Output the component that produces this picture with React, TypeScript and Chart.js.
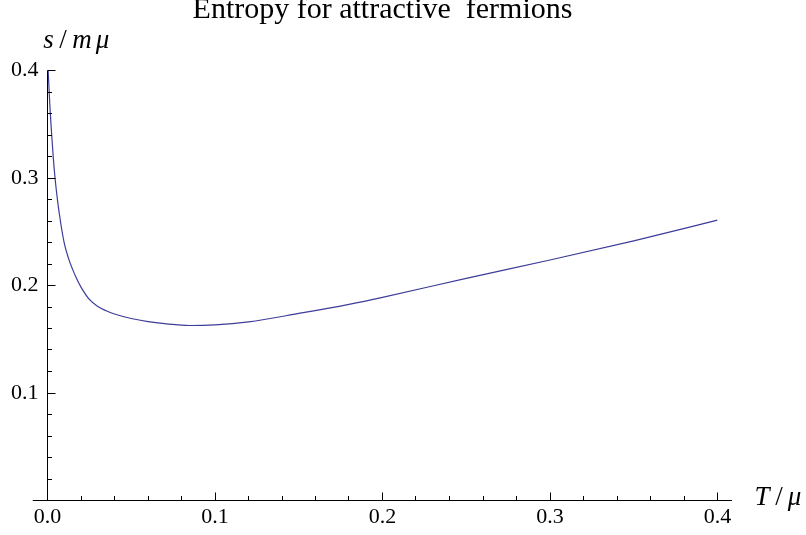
import React, { useEffect, useRef } from 'react';
import { Chart, registerables } from 'chart.js';

Chart.register(...registerables);

const titleText = 'Entropy for attractive  fermions';

const temperature = [
  0.0004, 0.001, 0.0016, 0.0025, 0.0035, 0.0045, 0.006, 0.008, 0.01, 0.0125,
  0.015, 0.0175, 0.02, 0.025, 0.03, 0.035, 0.04, 0.05, 0.06, 0.07,
  0.085, 0.1, 0.12, 0.15, 0.18, 0.2, 0.25, 0.3, 0.35, 0.4,
];
const entropy = [
  0.4, 0.38, 0.362, 0.34, 0.318, 0.3, 0.279, 0.257, 0.2395, 0.2255,
  0.215, 0.206, 0.1985, 0.187, 0.1805, 0.1765, 0.1735, 0.1693, 0.1664, 0.1645,
  0.1628, 0.1634, 0.1662, 0.174, 0.1825, 0.189, 0.2067, 0.2237, 0.2415, 0.2608,
];

const xTickValues = [0.0, 0.1, 0.2, 0.3, 0.4];
const yTickValues = [0.1, 0.2, 0.3, 0.4];
const xMinorTicks = [0.02, 0.04, 0.06, 0.08, 0.12, 0.14, 0.16, 0.18, 0.22, 0.24, 0.26, 0.28, 0.32, 0.34, 0.36, 0.38];
const yMinorTicks = [0.02, 0.04, 0.06, 0.08, 0.12, 0.14, 0.16, 0.18, 0.22, 0.24, 0.26, 0.28, 0.32, 0.34, 0.36, 0.38];
const xAxisExtent = [-0.0088, 0.4086];

const SERIF = "'Liberation Serif', 'Times New Roman', serif";

const axesPlugin = {
  id: 'mmaAxes',
  afterDraw(chart: any) {
    const ctx = chart.ctx as CanvasRenderingContext2D;
    const xs = chart.scales.x;
    const ys = chart.scales.y;
    const x0 = Math.floor(xs.getPixelForValue(0)) + 0.5;
    const y0 = Math.floor(ys.getPixelForValue(0)) + 0.5;
    ctx.save();
    ctx.strokeStyle = '#000';
    ctx.lineWidth = 1;
    ctx.beginPath();
    ctx.moveTo(xs.getPixelForValue(xAxisExtent[0]), y0);
    ctx.lineTo(xs.getPixelForValue(xAxisExtent[1]), y0);
    ctx.moveTo(x0, y0);
    ctx.lineTo(x0, ys.getPixelForValue(0.4));
    xTickValues.forEach((v) => {
      const px = Math.floor(xs.getPixelForValue(v)) + 0.5;
      ctx.moveTo(px, y0);
      ctx.lineTo(px, y0 - 8);
    });
    xMinorTicks.forEach((v) => {
      const px = Math.floor(xs.getPixelForValue(v)) + 0.5;
      ctx.moveTo(px, y0);
      ctx.lineTo(px, y0 - 4.5);
    });
    yTickValues.forEach((v) => {
      const py = Math.floor(ys.getPixelForValue(v)) + 0.5;
      ctx.moveTo(x0, py);
      ctx.lineTo(x0 + 8, py);
    });
    yMinorTicks.forEach((v) => {
      const py = Math.floor(ys.getPixelForValue(v)) + 0.5;
      ctx.moveTo(x0, py);
      ctx.lineTo(x0 + 4.5, py);
    });
    ctx.stroke();

    ctx.fillStyle = '#000';
    ctx.font = `30px ${SERIF}`;
    ctx.textAlign = 'center';
    ctx.textBaseline = 'alphabetic';
    const ca = chart.chartArea;
    ctx.fillText(titleText, (ca.left + ca.right) / 2, 17.5);

    const drawGlyphs = (parts: [string, number, boolean][], baseline: number, size: number) => {
      parts.forEach(([t, cx, italic]) => {
        ctx.font = `${italic ? 'italic ' : ''}${size}px ${SERIF}`;
        ctx.textAlign = 'center';
        ctx.fillText(t, cx, baseline);
      });
    };
    drawGlyphs(
      [
        ['s', 48.5, true],
        ['/', 63, false],
        ['m', 82, true],
        ['μ', 102.5, true],
      ],
      48,
      27
    );
    drawGlyphs(
      [
        ['T', 762, true],
        ['/', 779, false],
        ['μ', 794.5, true],
      ],
      505,
      27
    );
    ctx.restore();
  },
};

export default function App() {
  const canvasRef = useRef<HTMLCanvasElement | null>(null);

  useEffect(() => {
    if (!canvasRef.current) return;
    const points = temperature.map((t, i) => ({ x: t, y: entropy[i] }));
    const chart = new Chart(canvasRef.current, {
      type: 'scatter',
      data: {
        datasets: [
          {
            data: points,
            showLine: true,
            borderColor: '#3d3d99',
            borderWidth: 1.2,
            pointRadius: 0,
            cubicInterpolationMode: 'monotone',
            fill: false,
          } as any,
        ],
      },
      options: {
        animation: false,
        responsive: true,
        maintainAspectRatio: false,
        layout: { padding: { top: 70.5, right: 88.5, bottom: 0, left: 0 } },
        plugins: {
          legend: { display: false },
          tooltip: { enabled: false },
          title: { display: false },
        },
        scales: {
          x: {
            type: 'linear',
            min: 0,
            max: 0.4,
            grid: { display: false, drawTicks: false },
            border: { display: false },
            afterBuildTicks: (scale: any) => {
              scale.ticks = xTickValues.map((v) => ({ value: v }));
            },
            afterFit: (scale: any) => {
              scale.height = 34.5;
            },
            ticks: {
              padding: 4,
              color: '#000',
              font: { family: SERIF, size: 22 },
              maxRotation: 0,
              autoSkip: false,
              callback: (v: any) => Number(v).toFixed(1),
            },
          },
          y: {
            type: 'linear',
            min: 0,
            max: 0.4,
            grid: { display: false, drawTicks: false },
            border: { display: false },
            afterBuildTicks: (scale: any) => {
              scale.ticks = yTickValues.map((v) => ({ value: v }));
            },
            afterFit: (scale: any) => {
              scale.width = 47.5;
            },
            ticks: {
              padding: 9,
              color: '#000',
              font: { family: SERIF, size: 22 },
              autoSkip: false,
              callback: (v: any) => Number(v).toFixed(1),
            },
          },
        },
      },
      plugins: [axesPlugin],
    });
    return () => chart.destroy();
  }, []);

  return (
    <div style={{ position: 'fixed', left: 0, top: 0, width: 806, height: 535, background: '#fff' }}>
      <canvas ref={canvasRef} />
    </div>
  );
}
